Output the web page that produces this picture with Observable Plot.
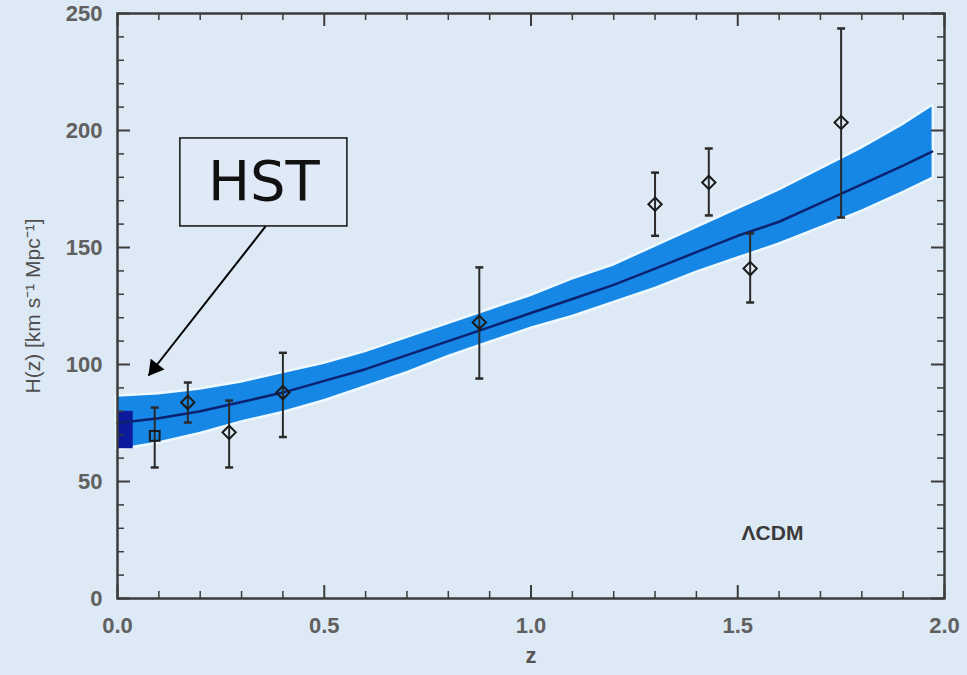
<!DOCTYPE html>
<html><head><meta charset="utf-8">
<script src="https://cdn.jsdelivr.net/npm/d3@7"></script>
<script src="https://cdn.jsdelivr.net/npm/@observablehq/plot@0.6"></script>
<style>
html,body{margin:0;padding:0;background:#dde9f5;overflow:hidden;}
#chart svg{display:block;}
</style></head><body><div id="chart"></div>
<script>
// ΛCDM band
const bandZ    = [0, 0.1, 0.2, 0.3, 0.4, 0.5, 0.6, 0.7, 0.8, 0.9, 1.0, 1.1, 1.2, 1.3, 1.4, 1.5, 1.6, 1.7, 1.8, 1.9, 1.97];
const bandLow  = [64, 67, 71, 76, 80, 85, 91, 97, 104, 110, 116, 121, 127, 133, 140, 146, 152, 159, 166, 174, 180];
const bandMid  = [75, 77, 80, 84, 88, 93, 98, 104, 110, 116, 122, 128, 134, 141, 148, 155, 161, 169, 177, 185, 191];
const bandHigh = [86, 87, 89, 92, 96, 100, 105, 111, 117, 123, 129, 136, 142, 150, 158, 166, 174, 183, 192, 202, 210];

// H(z) measurements
const obsZ  = [0.09, 0.17, 0.27, 0.40, 0.875, 1.30, 1.43, 1.53, 1.75];
const obsH  = [69.5, 83.8, 71, 88, 118, 168.5, 177.8, 141, 203.4];
const obsLo = [56, 75.2, 56, 69, 94, 155, 163.7, 126.5, 162.8];
const obsHi = [81.6, 92.3, 84.6, 105, 141.5, 182, 192.3, 156, 243.6];

// HST H0 measurement
const hstZ = [0, 0.038];
const hstH = [64, 80];

// ticks
const xMajor = [0, 0.5, 1.0, 1.5, 2.0];
const xMinor = [0.1, 0.2, 0.3, 0.4, 0.6, 0.7, 0.8, 0.9, 1.1, 1.2, 1.3, 1.4, 1.6, 1.7, 1.8, 1.9];
const yMajor = [0, 50, 100, 150, 200, 250];
const yMinor = [10, 20, 30, 40, 60, 70, 80, 90, 110, 120, 130, 140, 160, 170, 180, 190, 210, 220, 230, 240];

// texts
const xLabel = "z";
const yLabel = "H(z) [km s⁻¹ Mpc⁻¹]";
const modelLabel = "ΛCDM";
const modelLabelPos = [1.584, 28];
const hstLabel = "HST";
const hstBoxZ = [0.152, 0.556];
const hstBoxH = [159, 196.6];
const hstArrowFrom = [0.358, 159];
const hstArrowTo = [0.075, 95.3];

const band = bandZ.map((z, i) => ({z, lo: bandLow[i], mid: bandMid[i], hi: bandHigh[i]}));
const obs = obsZ.map((z, i) => ({z, h: obsH[i], lo: obsLo[i], hi: obsHi[i], i}));

const W = 967, H = 675, mL = 117, mR = 23, mT = 13, mB = 77;
const fh = H - mT - mB, fw = W - mL - mR;
const axisColor = "#3c3c3c";
const capSymbol = {draw(ctx, size) { const w = Math.sqrt(size); ctx.moveTo(-w / 2, 0); ctx.lineTo(w / 2, 0); }};

const chart = Plot.plot({
  width: W, height: H,
  marginLeft: mL, marginRight: mR, marginTop: mT, marginBottom: mB,
  style: {background: "#dde9f5", fontFamily: "Liberation Sans, Arial, sans-serif"},
  x: {domain: [0, 2]},
  y: {domain: [0, 250]},
  marks: [
    // band halo + band
    Plot.areaY(band, {x: "z", y1: "lo", y2: "hi", fill: "#eef9ff", stroke: "#eef9ff", strokeWidth: 5}),
    Plot.areaY(band, {x: "z", y1: "lo", y2: "hi", fill: "#1787e6"}),
    Plot.rect([0], {x1: () => hstZ[0], x2: () => hstZ[1], y1: () => hstH[0], y2: () => hstH[1], fill: "#0c1a9e"}),
    Plot.line(band, {x: "z", y: "mid", stroke: "#0b2270", strokeWidth: 2.5}),
    // error bars
    Plot.ruleX(obs, {x: "z", y1: "lo", y2: "hi", stroke: "#2a2a2a", strokeWidth: 2}),
    Plot.dot(obs, {x: "z", y: "lo", symbol: capSymbol, r: 4.5, stroke: "#2a2a2a", strokeWidth: 2.5}),
    Plot.dot(obs, {x: "z", y: "hi", symbol: capSymbol, r: 4.5, stroke: "#2a2a2a", strokeWidth: 2.5}),
    Plot.dot(obs.filter(d => d.i === 0), {x: "z", y: "h", symbol: "square", r: 5.5, stroke: "#1a1a1a", strokeWidth: 2, fill: "none"}),
    Plot.dot(obs.filter(d => d.i > 0), {x: "z", y: "h", symbol: "diamond2", r: 6, stroke: "#1a1a1a", strokeWidth: 2, fill: "none"}),
    // frame and inward ticks
    Plot.frame({stroke: axisColor, strokeWidth: 2.5}),
    Plot.tickX(xMajor, {x: d => d, insetTop: fh - 13, stroke: axisColor, strokeWidth: 2}),
    Plot.tickX(xMinor, {x: d => d, insetTop: fh - 7, stroke: axisColor, strokeWidth: 1.5}),
    Plot.tickX(xMajor, {x: d => d, insetBottom: fh - 13, stroke: axisColor, strokeWidth: 2}),
    Plot.tickX(xMinor, {x: d => d, insetBottom: fh - 7, stroke: axisColor, strokeWidth: 1.5}),
    Plot.tickY(yMajor, {y: d => d, insetRight: fw - 13, stroke: axisColor, strokeWidth: 2}),
    Plot.tickY(yMinor, {y: d => d, insetRight: fw - 7, stroke: axisColor, strokeWidth: 1.5}),
    Plot.tickY(yMajor, {y: d => d, insetLeft: fw - 13, stroke: axisColor, strokeWidth: 2}),
    Plot.tickY(yMinor, {y: d => d, insetLeft: fw - 7, stroke: axisColor, strokeWidth: 1.5}),
    Plot.axisX(xMajor, {tickSize: 0, tickPadding: 19, tickFormat: d3.format(".1f"), fontSize: 22, fontWeight: "bold", fill: "#606060", label: null}),
    Plot.axisY(yMajor, {tickSize: 0, tickPadding: 15, fontSize: 22, fontWeight: "bold", fill: "#606060", label: null}),
    // axis titles
    Plot.text([xLabel], {frameAnchor: "bottom", dy: 64, fontSize: 22, fontWeight: "bold", fill: "#555", text: d => d}),
    Plot.text([yLabel], {frameAnchor: "left", textAnchor: "middle", dx: -84, rotate: -90, fontSize: 21, fill: "#505050", text: d => d}),
    Plot.text([modelLabel], {x: () => modelLabelPos[0], y: () => modelLabelPos[1], text: d => d, fontSize: 21, fontWeight: "bold", fill: "#3a3a3a"}),
    // HST annotation
    Plot.rect([0], {x1: () => hstBoxZ[0], x2: () => hstBoxZ[1], y1: () => hstBoxH[0], y2: () => hstBoxH[1], fill: "#dfeaf6", stroke: "#111", strokeWidth: 1.5}),
    Plot.text([hstLabel], {x: () => (hstBoxZ[0] + hstBoxZ[1]) / 2, y: () => (hstBoxH[0] + hstBoxH[1]) / 2, text: d => d, fontSize: 56, fill: "#111", fontFamily: "DejaVu Sans, sans-serif"}),
    Plot.link([0], {x1: () => hstArrowFrom[0], y1: () => hstArrowFrom[1], x2: () => hstArrowTo[0], y2: () => hstArrowTo[1], stroke: "#000", strokeWidth: 2}),
    Plot.dot([0], {x: () => hstArrowTo[0], y: () => hstArrowTo[1], symbol: "triangle", r: 6.5, rotate: 218, dx: 6, dy: -7.5, fill: "#000", stroke: "none"})
  ]
});
document.getElementById("chart").appendChild(chart);
</script>
</body></html>
